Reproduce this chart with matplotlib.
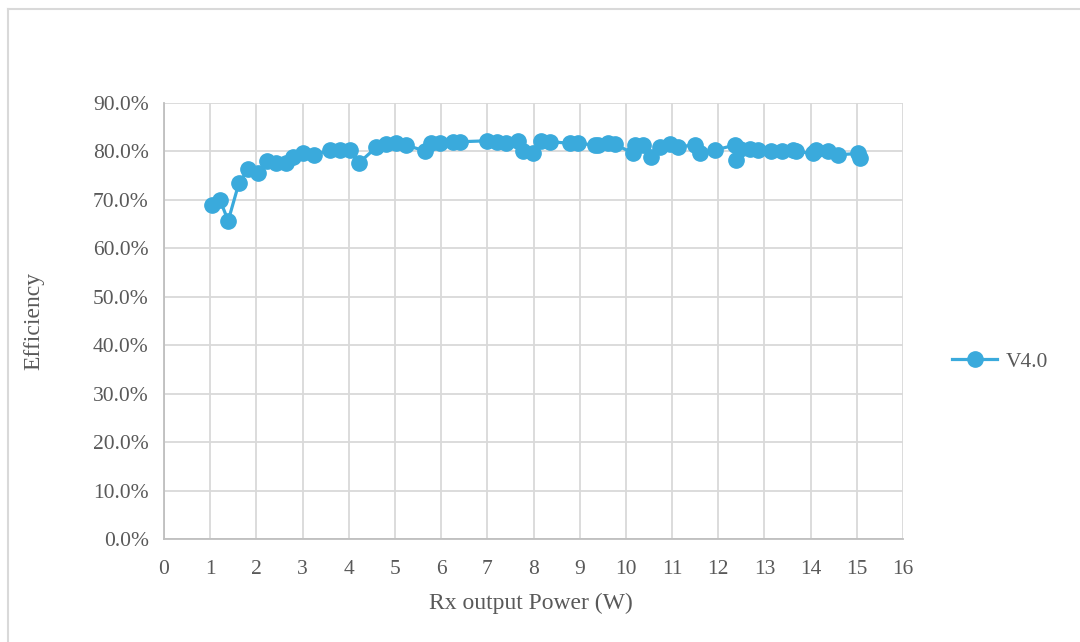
import matplotlib
matplotlib.use('Agg')
import matplotlib.pyplot as plt
from matplotlib.lines import Line2D
from matplotlib.ticker import PercentFormatter, MultipleLocator

plt.rcParams['font.family'] = ['Liberation Serif', 'DejaVu Serif']

# Rx output power (W) and efficiency (fraction) for V4.0
power = [1.05, 1.21, 1.39, 1.62, 1.82, 2.03, 2.24, 2.42, 2.64, 2.80,
         3.02, 3.25, 3.59, 3.81, 4.03, 4.23, 4.60, 4.80, 5.02, 5.24,
         5.65, 5.79, 5.97, 6.26, 6.41, 7.00, 7.20, 7.40, 7.67, 7.78,
         7.99, 8.17, 8.35, 8.79, 8.97, 9.33, 9.40, 9.62, 9.76, 10.16,
         10.20, 10.37, 10.55, 10.74, 10.95, 11.13, 11.50, 11.60, 11.93, 12.36,
         12.38, 12.47, 12.68, 12.86, 13.15, 13.37, 13.62, 13.69, 14.05, 14.12,
         14.38, 14.60, 15.03, 15.07]
efficiency = [0.690, 0.700, 0.657, 0.734, 0.763, 0.756, 0.780, 0.777, 0.777, 0.789,
              0.797, 0.793, 0.803, 0.802, 0.804, 0.777, 0.809, 0.815, 0.817, 0.813,
              0.801, 0.817, 0.817, 0.820, 0.820, 0.822, 0.820, 0.817, 0.822, 0.800,
              0.796, 0.822, 0.820, 0.817, 0.817, 0.813, 0.813, 0.818, 0.815, 0.796,
              0.813, 0.813, 0.788, 0.810, 0.815, 0.810, 0.813, 0.796, 0.803, 0.813,
              0.782, 0.806, 0.806, 0.803, 0.800, 0.800, 0.803, 0.800, 0.796, 0.803,
              0.800, 0.793, 0.796, 0.786]
series_name = 'V4.0'

blue = '#3AAADC'
text_gray = '#595959'

fig = plt.figure(figsize=(10.8, 6.42), dpi=100)
ax = fig.add_axes([164/1080, 1 - 539/642, (903-164)/1080, (539-103)/642])

ax.plot(power, efficiency, color=blue, lw=2.3, marker='o', ms=11,
        markeredgecolor=blue, markerfacecolor=blue, label=series_name, zorder=3)

ax.set_xlim(0, 16)
ax.set_ylim(0, 0.9)
ax.xaxis.set_major_locator(MultipleLocator(1))
ax.yaxis.set_major_locator(MultipleLocator(0.1))
ax.yaxis.set_major_formatter(PercentFormatter(1.0, decimals=1))

ax.grid(True, color='#D9D9D9', lw=1.3, zorder=0)
ax.set_axisbelow(True)
for side in ['top', 'right']:
    ax.spines[side].set_visible(False)
for side in ['left', 'bottom']:
    ax.spines[side].set_color('#BFBFBF')
    ax.spines[side].set_linewidth(1.3)
ax.tick_params(length=0, labelsize=15.5, colors=text_gray)
ax.tick_params(axis='x', pad=15)
ax.tick_params(axis='y', pad=11)

ax.set_xlabel('Rx output Power (W)', fontsize=17, color=text_gray)
ax.set_ylabel('Efficiency', fontsize=17, color=text_gray)
ax.xaxis.set_label_coords(0.497, -0.147)
ax.yaxis.set_label_coords(-0.176, 0.5)
ax.xaxis.label.set_va('center')
ax.yaxis.label.set_va('center')

ax.legend(loc='center left', bbox_to_anchor=(1.04, 0.406), frameon=False,
          fontsize=15.5, labelcolor=text_gray, handlelength=2.1, handletextpad=0.4)

# partial outer chart border (top and left visible)
fig.add_artist(Line2D([8/1080, 8/1080], [0, 1 - 9/642], color='#D9D9D9', lw=1.5))
fig.add_artist(Line2D([8/1080, 1], [1 - 9/642, 1 - 9/642], color='#D9D9D9', lw=1.5))

fig.savefig('out.png', dpi=100)
